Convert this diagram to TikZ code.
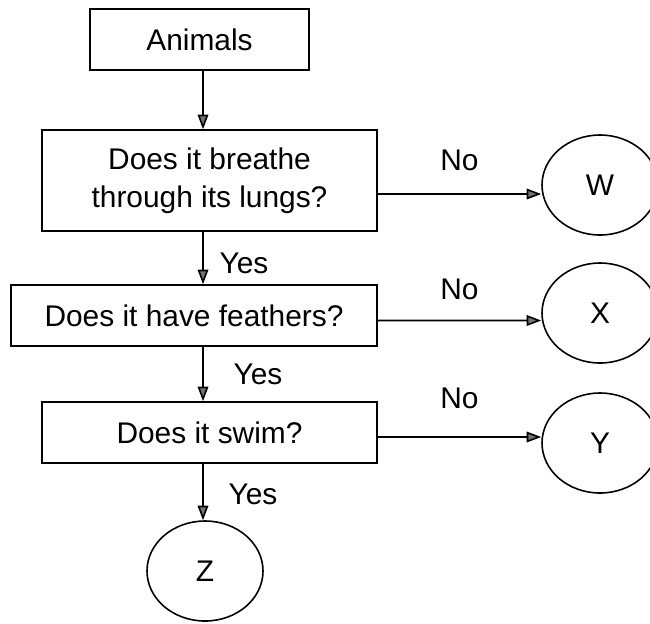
\documentclass[tikz,border=0pt]{standalone}
\usepackage{fontspec}
\setmainfont{Liberation Sans}
\usepackage{tikz}
\usetikzlibrary{arrows.meta,shapes.geometric}

\begin{document}
\begin{tikzpicture}[
  font=\fontsize{17}{21.6}\selectfont,
  line width=0.9pt,
  % Question / start box
  box/.style={rectangle, draw, align=center, inner sep=0pt},
  % Outcome ellipse
  leaf/.style={ellipse, draw, inner sep=0pt,
               minimum width=2.32cm, minimum height=2.0cm},
  lbl/.style={inner sep=0pt},
  arr/.style={-{Triangle[length=2.9mm,width=2.1mm,fill=black!55]}}
]
\useasboundingbox (0,0) rectangle (13,-12.46);

% ── Spine of questions ─────────────────────────────────────────────────────
\node[box, minimum width=4.38cm, minimum height=1.22cm] (animals)  at (3.99,-0.79) {Animals};
\node[box, minimum width=6.7cm,  minimum height=2.02cm] (lungs)    at (4.19,-3.61)
     {Does it breathe\\through its lungs?};
\node[box, minimum width=7.32cm, minimum height=1.22cm] (feathers) at (3.88,-6.31) {Does it have feathers?};
\node[box, minimum width=6.7cm,  minimum height=1.22cm] (swim)     at (4.19,-8.65) {Does it swim?};
\node[leaf] (z) at (4.1,-11.42) {Z};

\coordinate (spine) at (4.06,0);

\draw[arr] (animals.south -| spine)  -- (lungs.north -| spine);
\draw[arr] (lungs.south -| spine)    -- node[lbl, xshift=0.82cm, yshift=-0.1cm] {Yes} (feathers.north -| spine);
\draw[arr] (feathers.south -| spine) -- node[lbl, xshift=1.1cm] {Yes} (swim.north -| spine);
\draw[arr] (swim.south -| spine)     -- node[lbl, xshift=1.0cm, yshift=-0.04cm] {Yes} (z.north -| spine);

% ── "No" branches ──────────────────────────────────────────────────────────
\node[leaf] (w) at (12,-3.7)  {W};
\node[leaf] (x) at (12,-6.26) {X};
\node[leaf] (y) at (12,-8.86) {Y};

\draw[arr] ([yshift=-0.27cm]lungs.east)    -- node[lbl, yshift=0.68cm] {No} ([yshift=-0.18cm]w.west);
\draw[arr] ([yshift=-0.1cm]feathers.east)  -- node[lbl, yshift=0.62cm] {No} ([yshift=-0.15cm]x.west);
\draw[arr] ([yshift=-0.09cm]swim.east)     -- node[lbl, yshift=0.77cm] {No} ([yshift=0.12cm]y.west);

\end{tikzpicture}
\end{document}
